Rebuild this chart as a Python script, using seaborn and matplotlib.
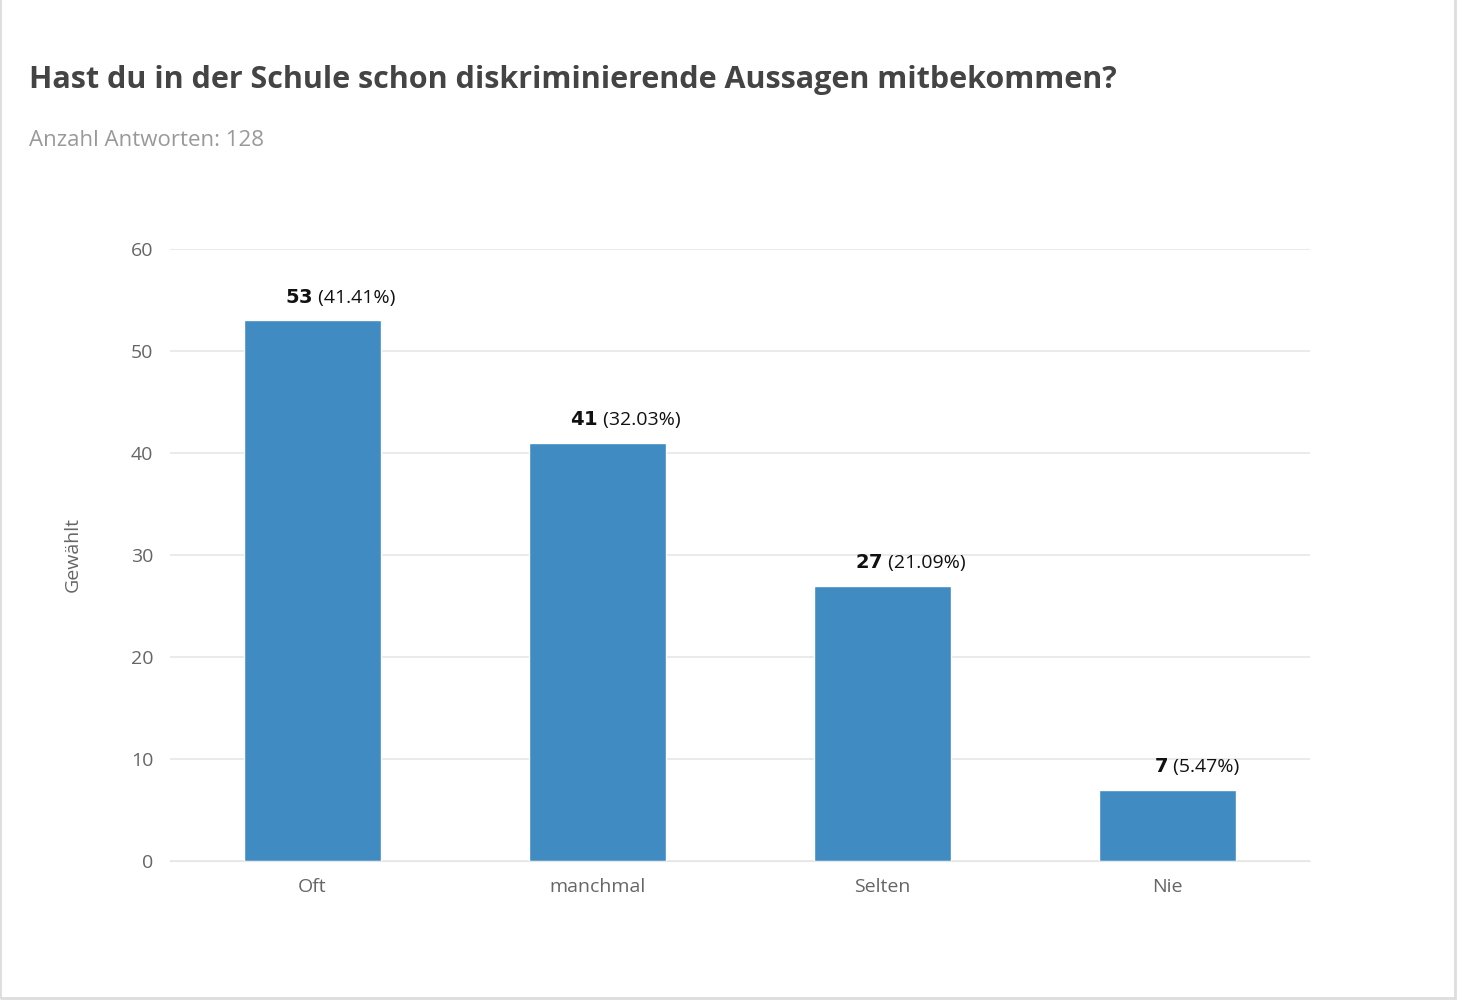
import matplotlib
matplotlib.use("Agg")
import matplotlib.pyplot as plt
import seaborn as sns
import pandas as pd

categories = ["Oft", "manchmal", "Selten", "Nie"]
counts = [53, 41, 27, 7]
percents = ["41.41%", "32.03%", "21.09%", "5.47%"]

sns.set_style("white")
plt.rcParams['font.family'] = ['Open Sans', 'DejaVu Sans']

df = pd.DataFrame({"Antwort": categories, "Gewählt": counts})

fig = plt.figure(figsize=(14.58, 10), dpi=100)
ax = fig.add_axes([0.1166, 0.139, 0.782, 0.612])
sns.barplot(data=df, x="Antwort", y="Gewählt", color="#3f8bc2", width=0.48,
            saturation=1, ax=ax)

ax.set_ylim(0, 60)
ax.set_xlim(-0.5, 3.5)
ax.set_yticks(range(0, 61, 10))
ax.grid(axis="y", color="#e6e6e6", linewidth=1.2)
ax.set_axisbelow(True)
for s in ["top", "right", "left"]:
    ax.spines[s].set_visible(False)
ax.spines["bottom"].set_color("#e6e6e6")
ax.tick_params(axis="both", length=0, labelsize=14, labelcolor="#666666", pad=12)
ax.set_xlabel("")
ax.set_ylabel("Gewählt", fontsize=14, color="#666666", labelpad=35)

for i, (c, p) in enumerate(zip(counts, percents)):
    ax.annotate(f"$\\bf{{{c}}}$", (i, c), xytext=(0, 10), textcoords="offset points",
                ha="right", va="bottom", fontsize=14, color="#111111")
    ax.annotate(f" ({p})", (i, c), xytext=(0, 10), textcoords="offset points",
                ha="left", va="bottom", fontsize=14, color="#111111")

fig.text(0.02, 0.92, "Hast du in der Schule schon diskriminierende Aussagen mitbekommen?",
         fontsize=22, fontweight="bold", color="#444444", va="center")
fig.text(0.02, 0.859, "Anzahl Antworten: 128", fontsize=16, color="#999999", va="center")

fig.patches.append(plt.Rectangle((0, 0.002), 0.998, 1.1, transform=fig.transFigure,
                                 fill=False, edgecolor="#dddddd", linewidth=2))

fig.savefig("out.png", dpi=100)
